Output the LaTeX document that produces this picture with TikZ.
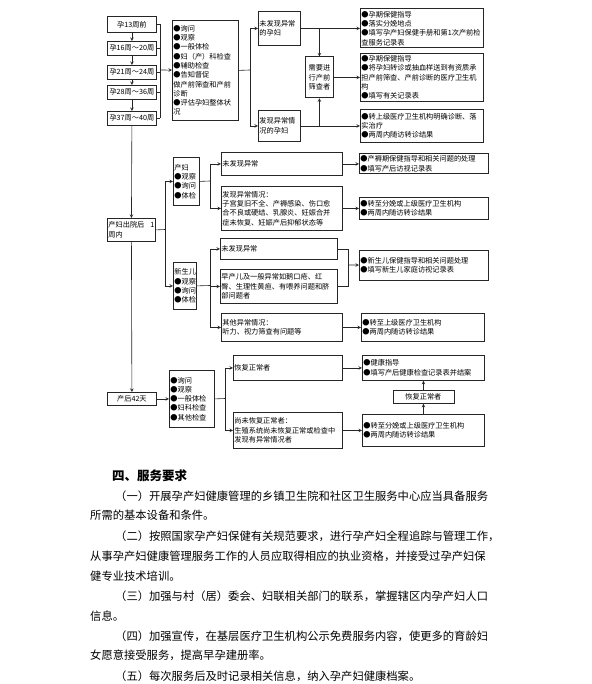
\documentclass[tikz,border=0pt]{standalone}
\usepackage{fontspec}
\setmainfont{Noto Sans CJK SC}
\usepackage{tikz}
\newcommand{\fullline}[2]{\hbox to #1{\XeTeXlinebreaklocale "zh"\XeTeXlinebreakskip=0pt plus 1fil\relax #2}}

\begin{document}
\begin{tikzpicture}[x=1pt, y=-1pt,
    box/.style={draw=black!85, line width=0.8pt, anchor=north west, inner sep=1pt, font=\fontsize{7.2}{9.3}\selectfont, align=left},
    stage/.style={box, align=center, minimum width=49pt},
    line/.style={line width=0.6pt, draw=black!85},
    arrow/.style={line, ->, >=stealth},
    body/.style={anchor=west, inner sep=0pt, font=\fontsize{11.3}{13}\selectfont}
]
\useasboundingbox (0,0) rectangle (591,684);

% prenatal visits
\node[stage, minimum height=16pt] (s13) at (107,16) {孕13周前};
\node[stage, minimum height=14pt] (s16) at (107,41) {孕16周～20周};
\node[stage, minimum height=14pt] (s21) at (107,65) {孕21周～24周};
\node[stage, minimum height=14pt] (s28) at (107,85) {孕28周～36周};
\node[stage, minimum height=14pt] (s37) at (107,111) {孕37周～40周};

\node[box, minimum width=66pt, minimum height=100pt, text width=64pt] (chk1) at (172,20)
  {●询问\\●观察\\●一般体检\\●妇（产）科检查\\●辅助检查\\●告知督促\\做产前筛查和产前\\诊断\\●评估孕妇整体状\\况};

\node[box, minimum width=42pt, minimum height=34pt, text width=40pt] (nrm) at (258,11) {未发现异常\\的孕妇};
\node[box, minimum width=42pt, minimum height=31pt, text width=40pt] (abn) at (258,110) {发现异常情\\况的孕妇};
\node[box, minimum width=28pt, minimum height=41pt, text width=26pt, align=center] (scr) at (305,56.5) {需要进\\行产前\\筛查者};

\node[box, minimum width=123pt, minimum height=39pt, text width=121pt] (g1) at (360,8.5)
  {●孕期保健指导\\●落实分娩地点\\●填写孕产妇保健手册和第1次产前检\\查服务记录表};
\node[box, minimum width=123pt, minimum height=48pt, text width=121pt] (g2) at (360,53)
  {●孕期保健指导\\●将孕妇转诊或抽血样送到有资质承\\担产前筛查、产前诊断的医疗卫生机\\构\\●填写有关记录表};
\node[box, minimum width=123pt, minimum height=33pt, text width=121pt] (g3) at (360,109)
  {●转上级医疗卫生机构明确诊断、落\\实治疗\\●两周内随访转诊结果};

% postpartum visit
\node[box, minimum width=48pt, minimum height=23pt, text width=46pt] (disch) at (107,218) {产妇出院后\hfill 1\\周内};
\node[box, minimum width=26pt, minimum height=48pt, text width=24pt] (mom) at (173,157) {产妇\\●观察\\●询问\\●体检};
\node[box, minimum width=121pt, minimum height=23pt, text width=119pt] (momok) at (221,152) {未发现异常};
\node[box, minimum width=121pt, minimum height=44pt, text width=119pt] (momabn) at (221,186)
  {发现异常情况：\\子宫复旧不全、产褥感染、伤口愈\\合不良或硬结、乳腺炎、妊娠合并\\症未恢复、妊娠产后抑郁状态等};
\node[box, minimum width=129pt, minimum height=20pt, text width=127pt] (momg1) at (359,153.5)
  {●产褥期保健指导和相关问题的处理\\●填写产后访视记录表};
\node[box, minimum width=129pt, minimum height=22pt, text width=127pt] (momg2) at (359,197)
  {●转至分娩或上级医疗卫生机构\\●两周内随访转诊结果};

\node[box, minimum width=23pt, minimum height=47pt, text width=21pt] (baby) at (173,262) {新生儿\\●观察\\●询问\\●体检};
\node[box, minimum width=117pt, minimum height=21pt, text width=115pt] (babyok) at (220,238) {未发现异常};
\node[box, minimum width=117pt, minimum height=34pt, text width=115pt] (babysick) at (220,269)
  {早产儿及一般异常如鹅口疮、红\\臀、生理性黄疸、有喂养问题和脐\\部问题者};
\node[box, minimum width=121pt, minimum height=28pt, text width=119pt] (babyother) at (221,313)
  {其他异常情况：\\听力、视力筛查有问题等};
\node[box, minimum width=129pt, minimum height=30pt, text width=127pt] (babyg1) at (359,250)
  {●新生儿保健指导和相关问题处理\\●填写新生儿家庭访视记录表};
\node[box, minimum width=123pt, minimum height=28pt, text width=121pt] (babyg2) at (361,313)
  {●转至上级医疗卫生机构\\●两周内随访转诊结果};

% 42 days
\node[stage, minimum height=13pt] (d42) at (107,392) {产后42天};
\node[box, minimum width=45pt, minimum height=57pt, text width=43pt] (chk2) at (169,370)
  {●询问\\●观察\\●一般体检\\●妇科检查\\●其他检查};
\node[box, minimum width=109pt, minimum height=25pt, text width=107pt] (rec) at (233,355) {恢复正常者};
\node[box, minimum width=109pt, minimum height=36pt, text width=107pt] (unrec) at (233,412)
  {尚未恢复正常者：\\生殖系统尚未恢复正常或检查中\\发现有异常情况者};
\node[box, minimum width=122pt, minimum height=25pt, text width=120pt] (recg) at (362,355)
  {●健康指导\\●填写产后健康检查记录表并结案};
\node[box, minimum width=122pt, minimum height=32pt, text width=120pt] (unrecg) at (362,414)
  {●转至分娩或上级医疗卫生机构\\●两周内随访转诊结果};
\node[stage, minimum width=61pt, minimum height=13pt] (recmid) at (392.5,390) {恢复正常者};

% connectors, prenatal
\draw[arrow] (s13) -- (s16);
\draw[arrow] (s16) -- (s21);
\draw[arrow] (s21) -- (s28);
\draw[arrow] (s28) -- (s37);
\coordinate (bar1) at (160,70);
\draw[line] (s13.east) -- (s13.east -| bar1);
\draw[line] (s16.east) -- (s16.east -| bar1);
\draw[line] (s21.east) -- (s21.east -| bar1);
\draw[line] (s28.east) -- (s28.east -| bar1);
\draw[line] (s37.east) -- (s37.east -| bar1);
\draw[line] (s13.east -| bar1) -- (s37.east -| bar1);
\draw[arrow] (bar1) -- (chk1);

\coordinate (bar2) at (250,70);
\draw[line] (chk1.east) -- (bar2);
\draw[line] (bar2 |- nrm) -- (bar2 |- abn);
\draw[arrow] (bar2 |- nrm) -- (nrm);
\draw[arrow] (bar2 |- abn) -- (abn);
\draw[arrow] (nrm) -- (g1);
\draw[arrow] (abn) -- (g3);
\draw[arrow] (scr) -- (g2);
\draw[arrow] (nrm.east -| scr) -- (scr.north);
\draw[arrow] (abn.east -| scr) -- (scr.south);

% connectors, postpartum
\draw[arrow] (s37) -- (disch);
\draw[arrow] (disch) -- (d42);
\coordinate (bar3) at (165,229.5);
\draw[line] (disch.east) -- (bar3);
\draw[line] (bar3 |- mom) -- (bar3 |- baby);
\draw[arrow] (bar3 |- mom) -- (mom);
\draw[arrow] (bar3 |- baby) -- (baby);

\coordinate (bar4) at (210,181);
\draw[line] (mom.east) -- (bar4);
\draw[line] (bar4 |- momok) -- (bar4 |- momabn);
\draw[arrow] (bar4 |- momok) -- (momok);
\draw[arrow] (bar4 |- momabn) -- (momabn);
\draw[arrow] (momok) -- (momg1);
\draw[arrow] (momabn) -- (momg2);

\coordinate (bar5) at (210,285.5);
\draw[line] (baby.east) -- (bar5);
\draw[line] (bar5 |- babyok) -- (bar5 |- babyother);
\draw[arrow] (bar5 |- babyok) -- (babyok);
\draw[arrow] (bar5 |- babysick) -- (babysick);
\draw[arrow] (bar5 |- babyother) -- (babyother);
\coordinate (bar6) at (348,265);
\draw[line] (babyok.east) -| (bar6);
\draw[line] (babysick.east) -| (bar6);
\draw[arrow] (bar6) -- (babyg1);
\draw[arrow] (babyother) -- (babyg2);

% connectors, 42 days
\draw[arrow] (d42) -- (chk2);
\coordinate (bar7) at (225,398.5);
\draw[line] (chk2.east) -- (bar7);
\draw[line] (bar7 |- rec) -- (bar7 |- unrec);
\draw[arrow] (bar7 |- rec) -- (rec);
\draw[arrow] (bar7 |- unrec) -- (unrec);
\draw[arrow] (rec) -- (recg);
\draw[arrow] (unrec) -- (unrecg);
\draw[arrow] (unrecg) -- (recmid);
\draw[arrow] (recmid) -- (recg);

% service requirements
\node[body, font=\fontsize{12.5}{14}\selectfont\bfseries] (h4) at (112,476) {四、服务要求};
\node[body] (t1) at (115,496) {\fullline{387pt}{（一）开展孕产妇健康管理的乡镇卫生院和社区卫生服务中心应当具备服务}};
\node[body] (t2) at (90,515) {所需的基本设备和条件。};
\node[body] (t3) at (115,536) {\fullline{388pt}{（二）按照国家孕产妇保健有关规范要求，进行孕产妇全程追踪与管理工作，}};
\node[body] (t4) at (90,556) {\fullline{413pt}{从事孕产妇健康管理服务工作的人员应取得相应的执业资格，并接受过孕产妇保}};
\node[body] (t5) at (90,576) {健专业技术培训。};
\node[body] (t6) at (115,596) {\fullline{388pt}{（三）加强与村（居）委会、妇联相关部门的联系，掌握辖区内孕产妇人口}};
\node[body] (t7) at (90,616) {信息。};
\node[body] (t8) at (115,636) {\fullline{388pt}{（四）加强宣传，在基层医疗卫生机构公示免费服务内容，使更多的育龄妇}};
\node[body] (t9) at (90,655) {女愿意接受服务，提高早孕建册率。};
\node[body] (t10) at (115,676) {（五）每次服务后及时记录相关信息，纳入孕产妇健康档案。};

\end{tikzpicture}
\end{document}
